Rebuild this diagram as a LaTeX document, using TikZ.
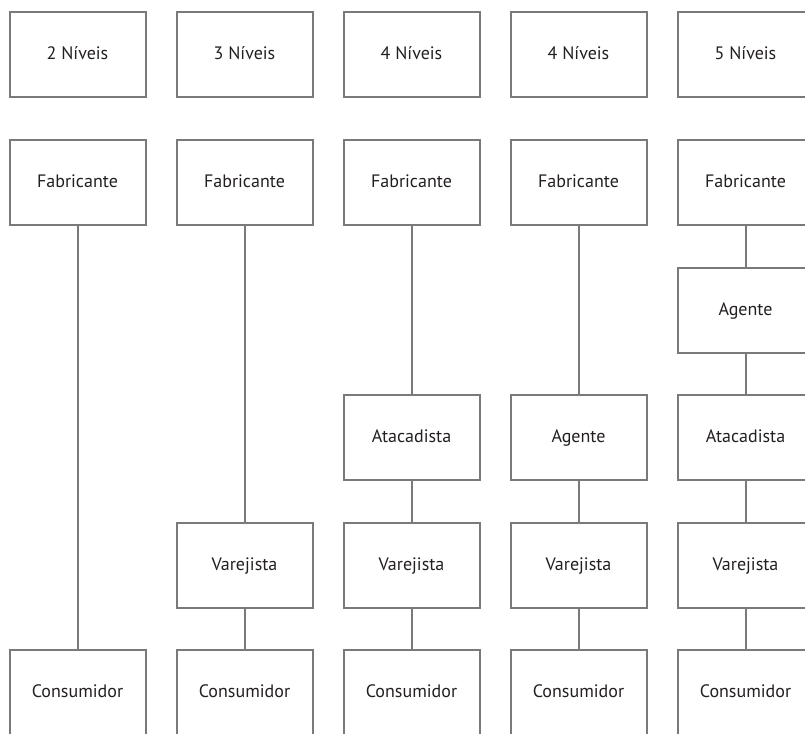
\documentclass[tikz,border=0pt]{standalone}
\usepackage{fontspec}
\setmainfont{PT Sans}
\usepackage{tikz}
\definecolor{linegray}{HTML}{7A7A7C}
\definecolor{textgray}{HTML}{231F20}
\tikzset{
    levelnode/.style = {
        align=center,
        text centered,
        rectangle,
        draw=linegray,
        line width=2pt,
        text=textgray,
        font=\fontsize{18}{21}\selectfont,
        text height=2.1ex,
        text depth=0pt,
        minimum width=136pt,
        minimum height=85pt,
        inner sep=0pt,
        outer sep=0pt
    },
    link/.style = {
        draw=linegray,
        line width=2pt
    }
}

\begin{document}
\begin{tikzpicture}[x=1pt, y=-1pt]
    \clip (0,0) rectangle (805,733);
    % header row
    \foreach \n [count=\i from 0] in {2,3,4,4,5}
        \node [levelnode] (head\i) at (77.5+167*\i, 54.5) {\n\ Níveis};
    % producers
    \foreach \i in {0,...,4}
        \node [levelnode] (fab\i) at (77.5+167*\i, 182.5) {Fabricante};
    % intermediaries
    \node [levelnode] (age4) at (745.5, 310) {Agente};
    \node [levelnode] (ata2) at (411.5, 437.5) {Atacadista};
    \node [levelnode] (age3) at (578.5, 437.5) {Agente};
    \node [levelnode] (ata4) at (745.5, 437.5) {Atacadista};
    \foreach \i in {1,...,4}
        \node [levelnode] (var\i) at (77.5+167*\i, 565) {Varejista};
    % consumers
    \foreach \i in {0,...,4}
        \node [levelnode] (con\i) at (77.5+167*\i, 692) {Consumidor};

    \draw [link] (fab0) -- (con0);
    \draw [link] (fab1) -- (var1) -- (con1);
    \draw [link] (fab2) -- (ata2) -- (var2) -- (con2);
    \draw [link] (fab3) -- (age3) -- (var3) -- (con3);
    \draw [link] (fab4) -- (age4) -- (ata4) -- (var4) -- (con4);
\end{tikzpicture}
\end{document}
